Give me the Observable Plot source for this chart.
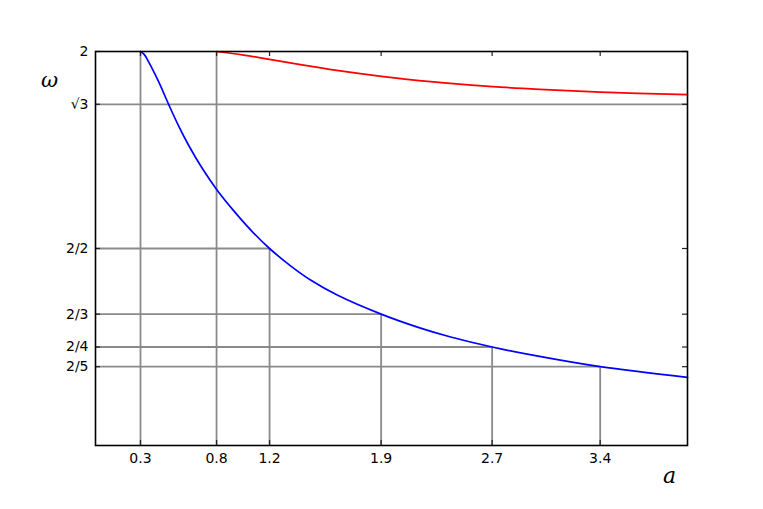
<!DOCTYPE html>
<html>
<head>
<meta charset="utf-8">
<script src="https://cdn.jsdelivr.net/npm/d3@7"></script>
<script src="https://cdn.jsdelivr.net/npm/@observablehq/plot@0.6"></script>
<style>
  html, body { margin: 0; padding: 0; background: #fff; }
  #chart { width: 763px; height: 509px; }
</style>
</head>
<body>
<div id="chart"></div>
<script>
// Blue (lower) branch: a -> omega
const blueA = [0.304, 0.33, 0.36, 0.428, 0.495, 0.563, 0.63, 0.721, 0.822, 0.946, 1.059, 1.176, 1.318, 1.453, 1.633, 1.93, 2.196, 2.4, 2.68, 3.0, 3.41, 4.0];
const blueW = [2.0, 1.984, 1.946, 1.844, 1.73, 1.62, 1.523, 1.407, 1.296, 1.181, 1.086, 1.0, 0.912, 0.84, 0.764, 0.667, 0.596, 0.551, 0.5, 0.452, 0.4, 0.346];

// Red (upper) branch
const redA = [0.818, 1.0, 1.176, 1.385, 1.63, 1.932, 2.264, 2.682, 3.0, 3.412, 4.0];
const redW = [2.0, 1.982, 1.96, 1.933, 1.904, 1.874, 1.847, 1.822, 1.808, 1.794, 1.781];

// Tick values and labels
const xTickValues = [0.304, 0.818, 1.176, 1.93, 2.68, 3.41];
const xTickLabels = ["0.3", "0.8", "1.2", "1.9", "2.7", "3.4"];
const yTickValues = [2, Math.sqrt(3), 1, 2/3, 0.5, 0.4];
const yTickLabels = ["2", "√3", "2/2", "2/3", "2/4", "2/5"];

// Guide lines: vertical (a up to omega), horizontal (omega from 0 to a)
const vGuideA = [0.304, 0.818, 1.176, 1.93, 2.68, 3.41];
const vGuideW = [2, 2, 1, 2/3, 0.5, 0.4];
const hGuideW = [Math.sqrt(3), 1, 2/3, 0.5, 0.4];
const hGuideA = [4.0, 1.176, 1.93, 2.68, 3.41];

const xDomain = [0, 4];
const yDomain = [0, 2];

const blue = blueA.map((a, i) => ({a, w: blueW[i]}));
const red = redA.map((a, i) => ({a, w: redW[i]}));
const vGuides = vGuideA.map((a, i) => ({a, w: vGuideW[i]}));
const hGuides = hGuideW.map((w, i) => ({a: hGuideA[i], w}));
const xLab = new Map(xTickValues.map((v, i) => [v, xTickLabels[i]]));
const yLab = new Map(yTickValues.map((v, i) => [v, yTickLabels[i]]));

const W = 763, H = 509;
const mL = 95, mR = 76, mT = 51, mB = 64;
const innerW = W - mL - mR, innerH = H - mT - mB;
const tickLen = 5;
const grid = "#8a8a8a";

const chart = Plot.plot({
  width: W,
  height: H,
  marginLeft: mL,
  marginRight: mR,
  marginTop: mT,
  marginBottom: mB,
  style: {fontFamily: "'DejaVu Sans', sans-serif", fontSize: "14px", background: "#fff", color: "#000"},
  x: {domain: xDomain},
  y: {domain: yDomain},
  marks: [
    Plot.ruleX(vGuides, {x: "a", y1: 0, y2: "w", stroke: grid, strokeWidth: 1.8}),
    Plot.ruleY(hGuides, {y: "w", x1: 0, x2: "a", stroke: grid, strokeWidth: 1.8}),
    Plot.line(red, {x: "a", y: "w", stroke: "#ff0000", strokeWidth: 1.7, curve: "catmull-rom"}),
    Plot.line(blue, {x: "a", y: "w", stroke: "#0000ff", strokeWidth: 1.7, curve: "catmull-rom"}),
    // inward ticks on all four sides
    Plot.tickX(xTickValues, {x: d => d, insetTop: innerH - tickLen, stroke: "#222", strokeWidth: 1.2}),
    Plot.tickX(xTickValues, {x: d => d, insetBottom: innerH - tickLen, stroke: "#222", strokeWidth: 1.2}),
    Plot.tickY(yTickValues, {y: d => d, insetRight: innerW - tickLen, stroke: "#222", strokeWidth: 1.2}),
    Plot.tickY(yTickValues, {y: d => d, insetLeft: innerW - tickLen, stroke: "#222", strokeWidth: 1.2}),
    Plot.frame({stroke: "#000", strokeWidth: 1.6}),
    Plot.axisX({ticks: xTickValues, tickFormat: d => xLab.get(d), tickSize: 0, tickPadding: 8, fontSize: 14, label: null}),
    Plot.axisY({ticks: yTickValues, tickFormat: d => yLab.get(d), tickSize: 0, tickPadding: 7, fontSize: 14, label: null}),
    Plot.text(["ω"], {frameAnchor: "top-left", textAnchor: "middle", lineAnchor: "middle", dx: -46, dy: 29, fontSize: 21, fontStyle: "italic", fontFamily: "'DejaVu Serif', serif"}),
    Plot.text(["a"], {frameAnchor: "bottom-right", textAnchor: "middle", lineAnchor: "middle", dx: -18, dy: 30, fontSize: 22, fontStyle: "italic", fontFamily: "'DejaVu Serif', serif"})
  ]
});
document.getElementById("chart").appendChild(chart);
</script>
</body>
</html>
